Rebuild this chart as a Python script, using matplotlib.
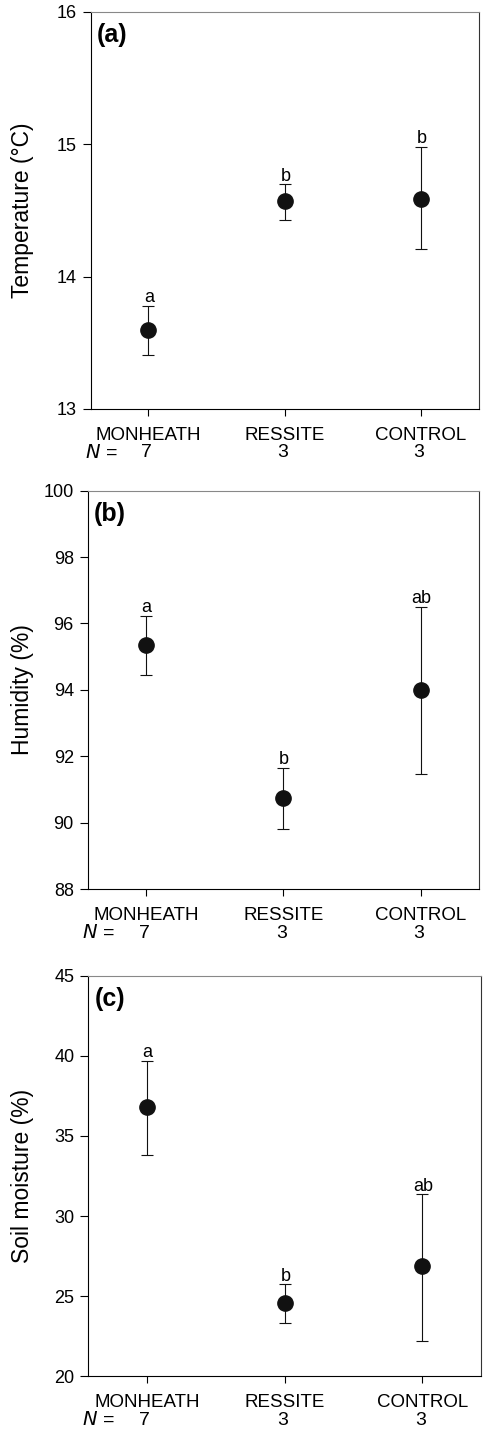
import matplotlib
matplotlib.use("Agg")
import matplotlib.pyplot as plt
from matplotlib.transforms import blended_transform_factory

plt.rcParams['font.family'] = ['Liberation Sans', 'DejaVu Sans']

# categories and sample sizes
sites = ["MONHEATH", "RESSITE", "CONTROL"]
n_values = ["7", "3", "3"]

# (a) temperature
temp_mean = [13.60, 14.57, 14.59]
temp_upper = [13.78, 14.70, 14.98]
temp_lower = [13.41, 14.43, 14.21]
temp_letters = ["a", "b", "b"]

# (b) humidity
hum_mean = [95.35, 90.75, 94.00]
hum_upper = [96.23, 91.65, 96.50]
hum_lower = [94.44, 89.81, 91.46]
hum_letters = ["a", "b", "ab"]

# (c) soil moisture
soil_mean = [36.8, 24.6, 26.85]
soil_upper = [39.7, 25.75, 31.35]
soil_lower = [33.8, 23.3, 22.2]
soil_letters = ["a", "b", "ab"]

panels = [
    # label, ylabel, mean, upper, lower, letters, ylim, ticks, axes rect
    ("(a)", "Temperature (°C)", temp_mean, temp_upper, temp_lower, temp_letters,
     (13, 16), [13, 14, 15, 16], [0.1866, 0.7152, 0.8010, 0.2765]),
    ("(b)", "Humidity (%)", hum_mean, hum_upper, hum_lower, hum_letters,
     (88, 100), [88, 90, 92, 94, 96, 98, 100], [0.1808, 0.3809, 0.8068, 0.2774]),
    ("(c)", "Soil moisture (%)", soil_mean, soil_upper, soil_lower, soil_letters,
     (20, 45), [20, 25, 30, 35, 40, 45], [0.1821, 0.0416, 0.8097, 0.2790]),
]

fig = plt.figure(figsize=(4.85, 14.36), dpi=100)

for label, ylabel, mean, upper, lower, letters, ylim, ticks, rect in panels:
    ax = fig.add_axes(rect)
    x = [1, 2, 3]
    err_lo = [m - l for m, l in zip(mean, lower)]
    err_hi = [u - m for m, u in zip(mean, upper)]
    ax.errorbar(x, mean, yerr=[err_lo, err_hi], fmt='o', color='#111111',
                markersize=11, ecolor='#111111', elinewidth=0.8,
                capsize=4.2, capthick=0.8)

    # significance letters above the upper caps
    for xi, u, let in zip(x, upper, letters):
        ax.annotate(let, (xi, u), xytext=(0.5, 2.5), textcoords='offset points',
                    ha='center', va='baseline', fontsize=13)

    ax.set_xlim(0.575, 3.425)
    ax.set_ylim(*ylim)
    ax.set_yticks(ticks)
    ax.set_xticks(x)
    ax.set_xticklabels(sites, fontsize=13.5)
    ax.tick_params(axis='y', direction='out', length=6, width=0.8,
                   labelsize=13, pad=4)
    ax.tick_params(axis='x', direction='out', length=5, width=0.8, pad=8)
    ax.set_ylabel(ylabel, fontsize=16.5)
    # same label column for every panel (x is the right edge of the rotated text)
    ax.yaxis.set_label_coords(34 / 485, 0.5,
                              transform=blended_transform_factory(fig.transFigure, ax.transAxes))

    ax.spines['top'].set_color('#888888')
    ax.spines['right'].set_color('#333333')
    for s in ax.spines.values():
        s.set_linewidth(0.8)

    ax.text(0.016, 0.972, label, transform=ax.transAxes, fontsize=18,
            fontweight='bold', ha='left', va='top')

    # N row under category labels
    trans = blended_transform_factory(ax.transData, ax.transAxes)
    ax.annotate("$\\it{N}$ =", (0.0, 0.0), xycoords='axes fraction',
                xytext=(-6, -44), textcoords='offset pixels',
                ha='left', va='center', fontsize=14)
    for xi, n in zip(x, n_values):
        ax.annotate(n, (xi, 0.0), xycoords=trans, xytext=(-2, -44),
                    textcoords='offset pixels', ha='center', va='center',
                    fontsize=14)

fig.savefig("out.png", dpi=100)
